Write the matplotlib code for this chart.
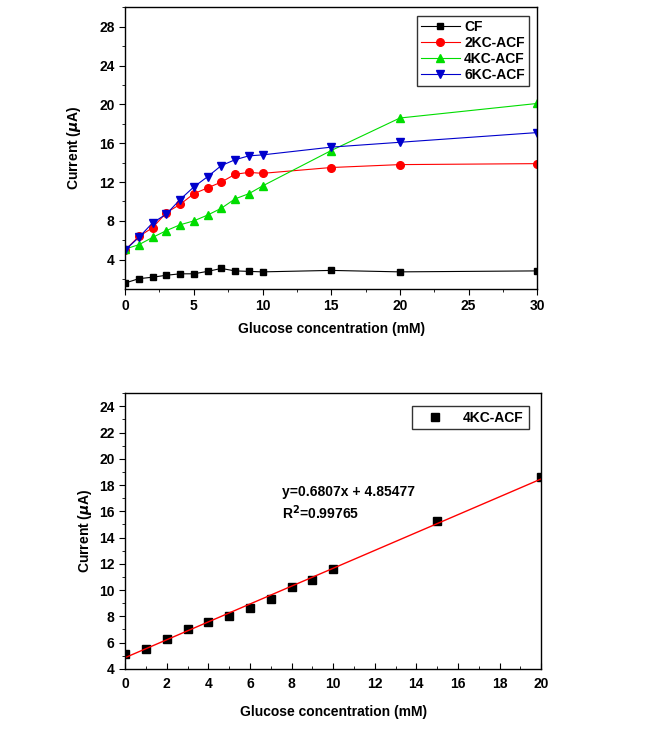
import matplotlib.pyplot as plt
from matplotlib.ticker import MultipleLocator

plt.rcParams['font.family'] = ['Liberation Sans', 'DejaVu Sans']
plt.rcParams['font.weight'] = 'bold'

# glucose concentration (mM)
conc = [0, 1, 2, 3, 4, 5, 6, 7, 8, 9, 10, 15, 20, 30]

# current (uA) for each electrode
cf = [1.6, 2.05, 2.2, 2.4, 2.55, 2.55, 2.8, 3.1, 2.85, 2.8, 2.75, 2.9, 2.75, 2.85]
kc2 = [5.0, 6.4, 7.3, 8.85, 9.7, 10.8, 11.4, 12.0, 12.8, 13.0, 12.9, 13.5, 13.8, 13.9]
kc4 = [5.1, 5.55, 6.3, 7.0, 7.6, 8.0, 8.6, 9.3, 10.27, 10.8, 11.6, 15.25, 18.6, 20.1]
kc6 = [5.0, 6.3, 7.8, 8.7, 10.2, 11.5, 12.55, 13.7, 14.3, 14.7, 14.8, 15.6, 16.1, 17.1]

# linear range for the fit (0-20 mM)
lin_conc = conc[:13]
lin_cur = kc4[:13]
slope = 0.6807
intercept = 4.85477

fig = plt.figure(figsize=(6.45, 7.35), dpi=100)

# top plot
ax1 = fig.add_axes([0.194, 0.607, 0.639, 0.383])
ax1.plot(conc, cf, '-s', color='black', ms=5, lw=0.8, label='CF')
ax1.plot(conc, kc2, '-o', color='red', ms=5.5, lw=0.8, label='2KC-ACF')
ax1.plot(conc, kc4, '-^', color='#00dd00', ms=6, lw=0.8, label='4KC-ACF')
ax1.plot(conc, kc6, '-v', color='#0000cc', ms=6, lw=0.8, label='6KC-ACF')
ax1.set_xlim(0, 30)
ax1.set_ylim(1, 30)
ax1.set_xticks([0, 5, 10, 15, 20, 25, 30])
ax1.xaxis.set_minor_locator(MultipleLocator(2.5))
ax1.set_yticks([4, 8, 12, 16, 20, 24, 28])
ax1.yaxis.set_minor_locator(MultipleLocator(2))
ax1.set_xlabel('Glucose concentration (mM)', fontsize=10, fontweight='bold', labelpad=6)
ax1.set_ylabel('Current ($\\mu$A)', fontsize=10, fontweight='bold', labelpad=12)
leg1 = ax1.legend(loc='upper right', fontsize=10, frameon=True, fancybox=False,
                  edgecolor='black', handlelength=2.8, borderaxespad=0.6,
                  borderpad=0.3, labelspacing=0.15, handletextpad=0.3)
leg1.get_frame().set_linewidth(1.0)

# bottom plot
ax2 = fig.add_axes([0.194, 0.090, 0.645, 0.375])
ax2.plot(lin_conc, lin_cur, 's', color='black', ms=5.5, label='4KC-ACF')
ax2.plot([0, 20], [intercept, slope * 20 + intercept], '-', color='red', lw=1.0)
ax2.set_xlim(0, 20)
ax2.set_ylim(4, 25)
ax2.xaxis.set_major_locator(MultipleLocator(2))
ax2.xaxis.set_minor_locator(MultipleLocator(1))
ax2.yaxis.set_major_locator(MultipleLocator(2))
ax2.yaxis.set_minor_locator(MultipleLocator(1))
ax2.set_xlabel('Glucose concentration (mM)', fontsize=10, fontweight='bold', labelpad=10)
ax2.set_ylabel('Current ($\\mu$A)', fontsize=10, fontweight='bold')
ax2.text(7.55, 16.6, 'y=0.6807x + 4.85477\nR$^2$=0.99765', fontsize=10,
         fontweight='bold', va='center', linespacing=1.3)
leg2 = ax2.legend(loc='upper right', fontsize=10, frameon=True, fancybox=False,
                  edgecolor='black', handlelength=2.5, borderaxespad=0.9,
                  borderpad=0.35)
leg2.get_frame().set_linewidth(1.0)

for ax in (ax1, ax2):
    ax.tick_params(which='both', direction='out', labelsize=10)
    ax.tick_params(which='major', length=4)
    ax.tick_params(which='minor', length=2)
    for lab in ax.get_xticklabels() + ax.get_yticklabels():
        lab.set_fontweight('bold')
    for sp in ax.spines.values():
        sp.set_linewidth(1.0)
ax2.tick_params(axis='x', which='both', direction='in', pad=6)

fig.savefig('out.png', dpi=100)
